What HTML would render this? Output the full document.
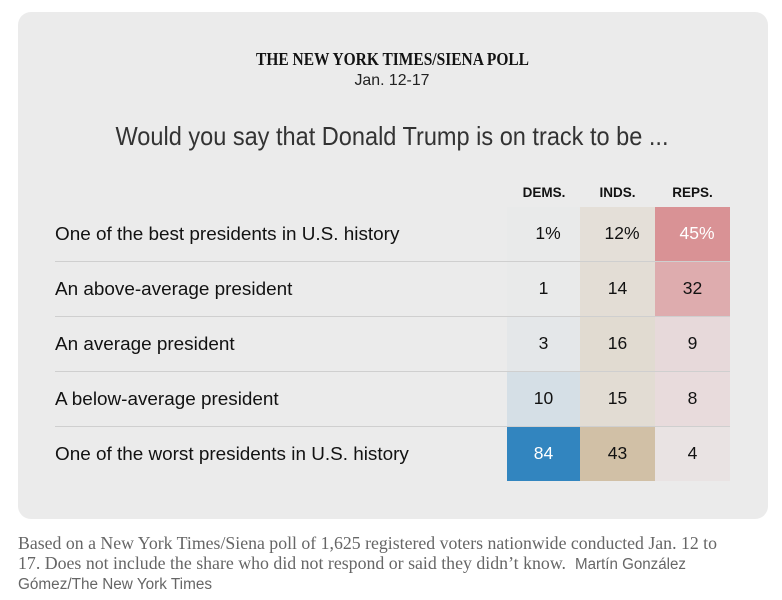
<!DOCTYPE html>
<html lang="en">
<head>
<meta charset="utf-8">
<title>The New York Times/Siena Poll</title>
<style>
html,body{margin:0;padding:0;background:#fff;width:782px;height:600px;overflow:hidden}
svg{display:block}
.sans{font-family:"Liberation Sans",sans-serif}
.serif{font-family:"Liberation Serif",serif}
</style>
</head>
<body>
<svg id="chart" width="782" height="600" viewBox="0 0 782 600" xmlns="http://www.w3.org/2000/svg">
  <rect x="18" y="12" width="750" height="507" rx="13" fill="#ebebeb"/>
  <text class="serif" x="392.5" y="65" text-anchor="middle" font-size="18" font-weight="700" fill="#121212" textLength="273" lengthAdjust="spacingAndGlyphs">THE NEW YORK TIMES/SIENA POLL</text>
  <text class="sans" x="392" y="85" text-anchor="middle" font-size="16" fill="#222" textLength="75" lengthAdjust="spacingAndGlyphs">Jan. 12-17</text>
  <text class="sans" x="392" y="145" text-anchor="middle" font-size="26" fill="#333" textLength="553" lengthAdjust="spacingAndGlyphs">Would you say that Donald Trump is on track to be ...</text>
  <g id="table"></g>
  <text class="serif" x="18" y="549" font-size="18" fill="#666" textLength="699" lengthAdjust="spacingAndGlyphs">Based on a New York Times/Siena poll of 1,625 registered voters nationwide conducted Jan. 12 to</text>
  <text class="serif" x="18" y="569" font-size="18" fill="#666" textLength="548" lengthAdjust="spacingAndGlyphs">17.  Does not include the share who did not respond or said they didn’t know.</text>
  <text class="sans" x="575" y="569" font-size="15.5" fill="#666" textLength="111" lengthAdjust="spacingAndGlyphs">Martín González</text>
  <text class="sans" x="18" y="589" font-size="15.5" fill="#666" textLength="194" lengthAdjust="spacingAndGlyphs">Gómez/The New York Times</text>
</svg>
<script>
const categories = ["One of the best presidents in U.S. history", "An above-average president", "An average president", "A below-average president", "One of the worst presidents in U.S. history"];
const columns = ["DEMS.", "INDS.", "REPS."];
const dems = [1, 1, 3, 10, 84];
const inds = [12, 14, 16, 15, 43];
const reps = [45, 32, 9, 8, 4];

const NS = 'http://www.w3.org/2000/svg';
const table = document.getElementById('table');
const series = [dems, inds, reps];
const colEdges = [507, 580, 655, 730];
const rowTop = 207, rowH = 55, bg = [235, 235, 235];
const fullColors = [[50, 133, 191], [209, 192, 166], [217, 146, 149]];
const rowY = i => rowTop + i * rowH;
const shade = (c, t) => 'rgb(' + c.map((v, k) => Math.round(bg[k] + (v - bg[k]) * t)).join(',') + ')';
function add(tag, attrs, text) {
  const el = document.createElementNS(NS, tag);
  for (const k in attrs) el.setAttribute(k, attrs[k]);
  if (text !== undefined) el.textContent = text;
  table.appendChild(el);
  return el;
}
columns.forEach((name, c) => {
  const el = add('text', {class: 'sans', x: (colEdges[c] + colEdges[c + 1]) / 2 + (c === 0 ? 0.5 : 0), y: 197, 'text-anchor': 'middle', 'font-size': 13.5, 'font-weight': 700, fill: '#121212'}, name);
  
  
});
series.forEach((values, c) => {
  const maxVal = Math.max(...values);
  values.forEach((v, r) => {
    const cell = add('rect', {x: colEdges[c], y: rowY(r), width: colEdges[c + 1] - colEdges[c], height: rowH - (r === categories.length - 1 ? 1 : 0), fill: shade(fullColors[c], v / maxVal)});
    
    
  });
});
categories.forEach((label, r) => {
  const el = add('text', {class: 'sans', x: 55, y: rowY(r) + 33, 'font-size': 18.9, fill: '#121212'}, label);
  
  
  if (r < categories.length - 1) {
    const line = add('rect', {x: 55, y: rowY(r + 1) - 1, width: 675, height: 1, fill: '#cfcfcf'});
    
    
  }
});
series.forEach((values, c) => {
  const maxVal = Math.max(...values);
  values.forEach((v, r) => {
    const center = (colEdges[c] + colEdges[c + 1]) / 2;
    const isPct = r === 0;
    const t = add('text', {class: 'sans', x: center + (isPct ? 4.5 : 0), y: rowY(r) + 32, 'text-anchor': 'middle', 'font-size': 17.5, fill: (v === maxVal && (c === 0 || c === 2)) ? '#fff' : '#121212'}, v + (isPct ? '%' : ''));
    
    
  });
});
</script>
</body>
</html>
